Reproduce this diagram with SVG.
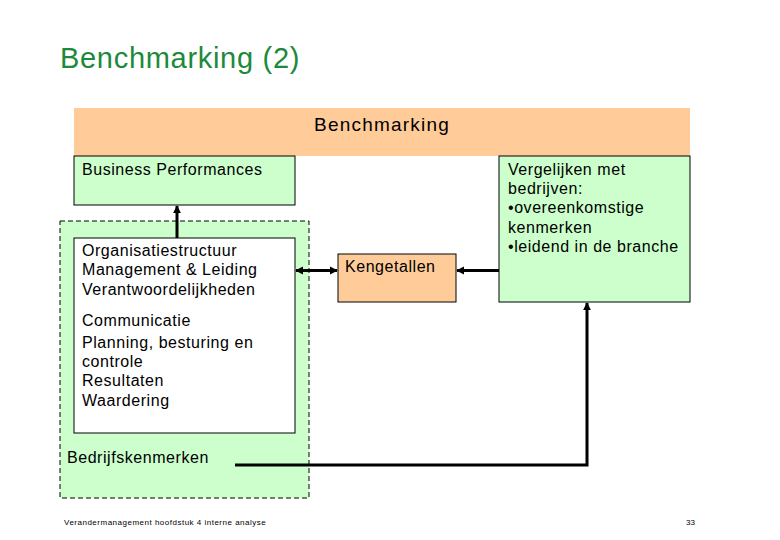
<svg xmlns="http://www.w3.org/2000/svg" width="780" height="540" viewBox="0 0 780 540">
<style>
text{font-family:"Liberation Sans",Arial,sans-serif;fill:#000}
.t{font-size:16px;letter-spacing:0.55px}
.box{stroke:#000;stroke-width:1}
.green{fill:#CCFFCC}
.orange{fill:#FFCC99}
.ln{stroke:#000;stroke-width:3;fill:none}
</style>
<defs>
<marker id="ah" viewBox="0 0 10 10" refX="9" refY="5" markerWidth="2.7" markerHeight="2.7" orient="auto-start-reverse" markerUnits="strokeWidth">
<path d="M0,0 L10,5 L0,10 z" fill="#000"/>
</marker>
</defs>
<rect width="780" height="540" fill="#fff"/>
<text x="60" y="68" style="font-size:29px;letter-spacing:0.7px;fill:#1B8A3A">Benchmarking (2)</text>
<g id="header">
<rect x="74" y="108" width="616" height="48" class="orange"/>
<text x="382" y="131" text-anchor="middle" style="font-size:19px;letter-spacing:1.2px">Benchmarking</text>
</g>
<g id="business">
<rect x="74" y="156" width="221" height="49" class="box green"/>
<text x="82" y="175" class="t">Business Performances</text>
</g>
<g id="bedrijfskenmerken">
<rect x="60" y="221" width="249" height="277" class="green" stroke="#000" stroke-width="1" stroke-dasharray="5,3"/>
<text x="67" y="463" class="t">Bedrijfskenmerken</text>
</g>
<g id="organisatie">
<rect x="74" y="238" width="221" height="195" fill="#fff" class="box"/>
<text x="82" y="256" class="t">Organisatiestructuur</text>
<text x="82" y="275" class="t">Management &amp; Leiding</text>
<text x="82" y="295" class="t">Verantwoordelijkheden</text>
<text x="82" y="326" class="t">Communicatie</text>
<text x="82" y="348" class="t">Planning, besturing en</text>
<text x="82" y="367" class="t">controle</text>
<text x="82" y="386" class="t">Resultaten</text>
<text x="82" y="406" class="t">Waardering</text>
</g>
<g id="kengetallen">
<rect x="338" y="254" width="118" height="48" class="box orange"/>
<text x="345" y="272" class="t">Kengetallen</text>
</g>
<g id="vergelijken">
<rect x="499" y="156" width="191" height="146" class="box green"/>
<text x="508" y="175" class="t">Vergelijken met</text>
<text x="508" y="194" class="t">bedrijven:</text>
<text x="508" y="213" class="t">•overeenkomstige</text>
<text x="508" y="233" class="t">kenmerken</text>
<text x="508" y="252" class="t">•leidend in de branche</text>
</g>
<g id="connectors">
<line x1="177" y1="238" x2="177" y2="206" class="ln" marker-end="url(#ah)"/>
<line x1="296" y1="270.5" x2="337" y2="270.5" class="ln" marker-start="url(#ah)" marker-end="url(#ah)"/>
<line x1="499" y1="270.5" x2="457" y2="270.5" class="ln" marker-end="url(#ah)"/>
<polyline points="235,465 587,465 587,303" class="ln" marker-end="url(#ah)"/>
</g>
<text x="64" y="525" style="font-size:8px;letter-spacing:0.5px">Verandermanagement hoofdstuk 4 interne analyse</text>
<text x="686" y="525" style="font-size:8px">33</text>
</svg>
